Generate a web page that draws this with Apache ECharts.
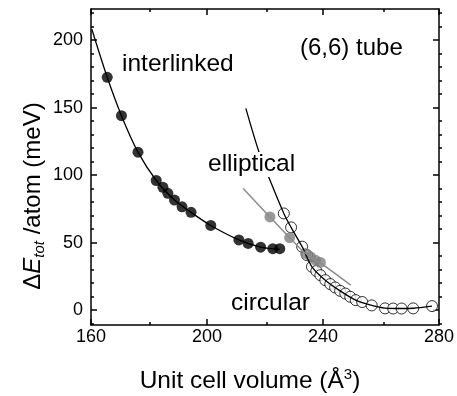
<!DOCTYPE html>
<html>
<head>
<meta charset="utf-8">
<title>(6,6) tube</title>
<style>
  html, body { margin: 0; padding: 0; background: #fff; }
  #main { width: 457px; height: 396px; }
</style>
</head>
<body>
<div id="main"></div>
<script src="https://cdn.jsdelivr.net/npm/echarts@6/dist/echarts.min.js"></script>
<script type="text/javascript">
    // values: [volume (Å^3), dE (meV)]
    var interlinkedPts = [
        [165.6, 172.4], [170.5, 144], [176.2, 117], [182.5, 96], [184.8, 91],
        [186.5, 86.5], [188.8, 81.5], [191.4, 76.5], [194.5, 72.4], [201.3, 62.7],
        [211, 52], [214.2, 49.4], [218.5, 46.6], [222.7, 45.5], [225.1, 45.5]
    ];
    var interlinkedFit = [
        [160.3, 208], [165.6, 172.4], [170.5, 144], [176.2, 117], [182.5, 96],
        [188.8, 81.5], [194.5, 72.4], [201.3, 62.7], [211, 52], [218.5, 46.6], [225.1, 45]
    ];
    var circularPts = [
        [226.5, 71.6], [229, 61.3], [232.8, 47], [234.5, 40.7], [236.2, 32.1],
        [237.7, 29], [239.1, 25.9], [240.8, 22.2], [242.5, 19.3], [244.2, 16.8],
        [245.9, 14.3], [247.7, 12.3], [249.4, 9.9], [251.3, 7.4], [253.5, 6],
        [256.8, 3.5], [261.4, 1.3], [264.2, 1.2], [267.1, 1.2], [271.1, 1.3], [277.6, 3]
    ];
    var circularFit = [
        [213.4, 149.4], [217.9, 117.3], [221.7, 96.3], [226.5, 71.6], [229, 61.3],
        [232.8, 47], [236.2, 32.1], [240.8, 22.2], [245.9, 14.3], [251.3, 7.4],
        [256.8, 3.5], [261.4, 1.5], [267.1, 1.2], [271.1, 1.4], [277.6, 3]
    ];
    var ellipticalPts = [
        [221.7, 69], [228.5, 53.7], [234, 42], [235.7, 39.5], [237.4, 37], [239.1, 35.3]
    ];
    var ellipticalFit = [
        [212.5, 90], [221.7, 69], [228.5, 53.7], [234, 42], [239.1, 35], [249.6, 18.5]
    ];
    var xMajor = [160, 200, 240, 280];
    var xMinor = [180, 220, 260];
    var yMajor = [0, 50, 100, 150, 200];
    var yMinor = [-10, 10, 20, 30, 40, 60, 70, 80, 90, 110, 120, 130, 140, 160, 170, 180, 190, 210, 220];

    var FONT = 'Liberation Sans';
    var chart = echarts.init(document.getElementById('main'));

    // grid 0 carries the data, the frame and long ticks; grid 1 (same box) only the short ticks
    function xAx(grid, pos, ticks, len, labels) {
        return {
            type: 'value', gridIndex: grid, position: pos, min: 160, max: 280,
            axisLine: {show: grid === 0, onZero: false, lineStyle: {color: '#000', width: 1.5}},
            axisTick: {show: true, inside: true, length: len, customValues: ticks,
                lineStyle: {color: '#000', width: 1.5}},
            axisLabel: {show: labels, customValues: ticks, margin: 3,
                color: '#000', fontSize: 18, fontFamily: FONT},
            splitLine: {show: false}
        };
    }
    function yAx(grid, pos, ticks, len, labels) {
        return {
            type: 'value', gridIndex: grid, position: pos, min: -11, max: 223,
            axisLine: {show: grid === 0, onZero: false, lineStyle: {color: '#000', width: 1.5}},
            axisTick: {show: true, inside: true, length: len, customValues: ticks,
                lineStyle: {color: '#000', width: 1.5}},
            axisLabel: {show: labels, customValues: ticks, margin: 8,
                color: '#000', fontSize: 18, fontFamily: FONT},
            splitLine: {show: false}
        };
    }

    chart.setOption({
        animation: false,
        backgroundColor: '#fff',
        grid: [
            {left: 91, top: 9, right: 15, bottom: 71},
            {left: 91, top: 9, right: 15, bottom: 71}
        ],
        xAxis: [
            xAx(0, 'bottom', xMajor, 6, true),
            xAx(0, 'top', xMajor, 6, false),
            xAx(1, 'bottom', xMinor, 3, false),
            xAx(1, 'top', xMinor, 3, false)
        ],
        yAxis: [
            yAx(0, 'left', yMajor, 6, true),
            yAx(0, 'right', yMajor, 6, false),
            yAx(1, 'left', yMinor, 3, false),
            yAx(1, 'right', yMinor, 3, false)
        ],
        series: [
            {type: 'line', data: interlinkedFit, smooth: 0.3, showSymbol: false,
                lineStyle: {color: '#000', width: 1.3}},
            {type: 'line', data: circularFit, smooth: 0.3, showSymbol: false,
                lineStyle: {color: '#000', width: 1.3}},
            {type: 'line', data: ellipticalFit, smooth: 0.3, showSymbol: false,
                lineStyle: {color: '#8c8c8c', width: 1.5}},
            {type: 'scatter', data: interlinkedPts, symbolSize: 11,
                itemStyle: {color: '#000'}},
            {type: 'scatter', data: circularPts, symbolSize: 11,
                itemStyle: {color: '#fff', borderColor: '#000', borderWidth: 1}},
            {type: 'scatter', data: ellipticalPts, symbolSize: 11,
                itemStyle: {color: '#808080'}}
        ],
        graphic: [
            {type: 'text', left: 122, top: 52, z: 10,
                style: {text: 'interlinked', fontSize: 24.5, fontFamily: FONT, fill: '#000'}},
            {type: 'text', left: 300, top: 36, z: 10,
                style: {text: '(6,6) tube', fontSize: 24, fontFamily: FONT, fill: '#000'}},
            {type: 'text', left: 206, top: 152, z: 10,
                style: {text: 'elliptical', fontSize: 24.5, fontFamily: FONT, fill: '#000',
                    backgroundColor: '#fff', padding: [0, 2]}},
            {type: 'text', left: 231, top: 291, z: 10,
                style: {text: 'circular', fontSize: 24.5, fontFamily: FONT, fill: '#000'}},
            {type: 'text', x: 250, y: 381, z: 10,
                style: {
                    text: '{n|Unit cell volume (Å}{sup|3}{n|)}',
                    align: 'center', verticalAlign: 'middle',
                    rich: {
                        n: {fontSize: 24.5, fontFamily: FONT, fill: '#000', lineHeight: 28},
                        sup: {fontSize: 15, fontFamily: FONT, fill: '#000', verticalAlign: 'top'}
                    }
                }},
            {type: 'text', x: 33, y: 196, rotation: Math.PI / 2, z: 10,
                style: {
                    text: '{n|Δ}{e|E}{s|tot}{n| /atom (meV)}',
                    align: 'center', verticalAlign: 'middle',
                    rich: {
                        n: {fontSize: 24, fontFamily: FONT, fill: '#000', lineHeight: 28},
                        e: {fontSize: 24, fontFamily: FONT, fontStyle: 'italic', fill: '#000', lineHeight: 28},
                        s: {fontSize: 15, fontFamily: FONT, fontStyle: 'italic', fill: '#000', verticalAlign: 'bottom'}
                    }
                }}
        ]
    });
</script>
</body>
</html>
